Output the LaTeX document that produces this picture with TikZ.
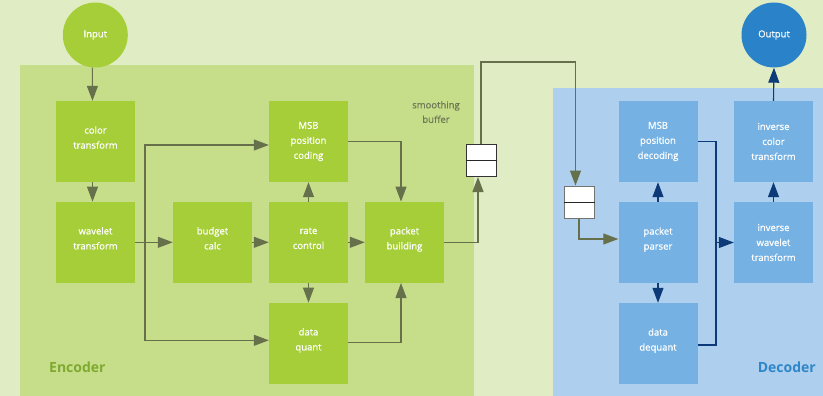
\documentclass[tikz,border=0pt]{standalone}
\usepackage{fontspec}
\setmainfont{Open Sans}
\newfontfamily\semib{Open Sans}[FakeBold=0.7]
\usetikzlibrary{arrows.meta}
\definecolor{bgout}{HTML}{E0EDC4}
\definecolor{encbg}{HTML}{C6DD8A}
\definecolor{decbg}{HTML}{AECFED}
\definecolor{gboxc}{HTML}{A6CE39}
\definecolor{bboxc}{HTML}{75B2E3}
\definecolor{outc}{HTML}{2A82C8}
\definecolor{olivec}{HTML}{66714B}
\definecolor{navyc}{HTML}{0D3A78}
\definecolor{enclab}{HTML}{7FAA30}
\definecolor{declab}{HTML}{2F86C8}
\definecolor{smoothc}{HTML}{6E7A55}
\newcommand\twol[2]{#1\\#2\\[-7pt]\mbox{}}
\begin{document}
\begin{tikzpicture}[x=1pt,y=-1pt,
  box/.style={rectangle, minimum width=79pt, minimum height=81pt, inner sep=0pt, align=center, font=\semib\fontsize{9.5}{15}\selectfont, text=white},
  gbox/.style={box, fill=gboxc},
  bbox/.style={box, fill=bboxc},
  circ/.style={circle, minimum size=65pt, inner sep=0pt, text=white, font=\semib\fontsize{9.5}{12}\selectfont},
  buf/.style={rectangle, minimum width=30pt, minimum height=32pt, inner sep=0pt, fill=white, draw=black!80, line width=1pt},
  oarr/.style={draw=olivec, line width=1.1pt, -{Triangle[length=15pt,width=11pt]}},
  narr/.style={draw=navyc, line width=1.1pt, -{Triangle[length=15pt,width=11pt]}},
  nline/.style={draw=navyc, line width=1.1pt},
  panellab/.style={font=\bfseries\fontsize{14}{16}\selectfont, inner sep=0pt}
]
\useasboundingbox (0,0) rectangle (823,396);
\fill[bgout] (0,0) rectangle (823,396);
\fill[encbg] (20,65) rectangle (474,396);
\fill[decbg] (553,88) rectangle (823,396);

% circles
\node[circ, fill=gboxc] (in) at (95.3,35) {Input};
\node[circ, fill=outc] (out) at (774,35) {Output};

% encoder boxes
\node[gbox] (ct) at (95.5,141.5) {\twol{color}{transform}};
\node[gbox] (msbc) at (308.5,141.5) {MSB\\position\\coding};
\node[gbox] (wt) at (95.5,242.3) {\twol{wavelet}{transform}};
\node[gbox] (bc) at (212.5,242.3) {\twol{budget}{calc}};
\node[gbox] (rc) at (308.5,242.3) {\twol{rate}{control}};
\node[gbox] (pb) at (404.5,242.3) {\twol{packet}{building}};
\node[gbox] (dq) at (308.5,343.3) {\twol{data}{quant}};

% decoder boxes
\node[bbox] (msbd) at (658,141.5) {MSB\\position\\decoding};
\node[bbox] (ic) at (773.5,141.5) {inverse\\color\\transform};
\node[bbox] (pp) at (658,242.5) {\twol{packet}{parser}};
\node[bbox] (iw) at (773.5,242.5) {inverse\\wavelet\\transform};
\node[bbox] (dd) at (658,343.5) {\twol{data}{dequant}};

% buffers
\node[buf] (eb) at (481,160.5) {};
\draw[black!85, line width=1pt] (eb.west) -- (eb.east);
\node[buf, draw=black!55] (db) at (579,202) {};
\draw[black!85, line width=1pt] (db.west) -- (db.east);

% labels
\node[panellab, text=enclab, anchor=west] (enc) at (49,367) {Encoder};
\node[panellab, text=declab, anchor=east] (dec) at (816,367) {Decoder};
\node[text=smoothc, align=center, font=\semib\fontsize{9.5}{14.5}\selectfont] (sm) at (436,112) {smoothing\\buffer};

% encoder connectors
\draw[oarr] ([xshift=-3pt]in.south) -- ([xshift=-3pt]ct.north);
\draw[oarr] ([xshift=-3pt]ct.south) -- ([xshift=-3pt]wt.north);
\draw[oarr] (wt.east) -- (bc.west);
\coordinate (br) at (145,242.3);
\draw[oarr] (br) |- ([yshift=-3.5pt]msbc.west);
\draw[oarr] (br) |- ([yshift=3pt]dq.west);
\draw[oarr] (bc.east) -- (rc.west);
\draw[oarr] (rc.east) -- (pb.west);
\draw[oarr] (rc.north) -- (msbc.south);
\draw[oarr] (rc.south) -- (dq.north);
\draw[oarr] (msbc.east) -| ([xshift=-3.5pt]pb.north);
\draw[oarr] ([yshift=1pt]dq.east) -| ([xshift=-3.5pt]pb.south);
\draw[oarr] (pb.east) -| ([xshift=-3pt]eb.south);
\draw[oarr] (eb.north) -- ++(0,-82) -| ([xshift=-3.5pt]db.north);
\draw[oarr] (db.south) |- ([yshift=3.5pt]pp.west);

% decoder connectors
\draw[narr] (pp.north) -- (msbd.south);
\draw[narr] (pp.south) -- (dd.north);
\coordinate (dj) at (716,242.5);
\draw[nline] (msbd.east) -| (dj) |- ([yshift=-1.5pt]dd.east);
\draw[narr] (dj) -- (iw.west);
\draw[narr] (iw.north) -- (ic.south);
\draw[narr] (ic.north) -- (out.south);
\end{tikzpicture}
\end{document}
